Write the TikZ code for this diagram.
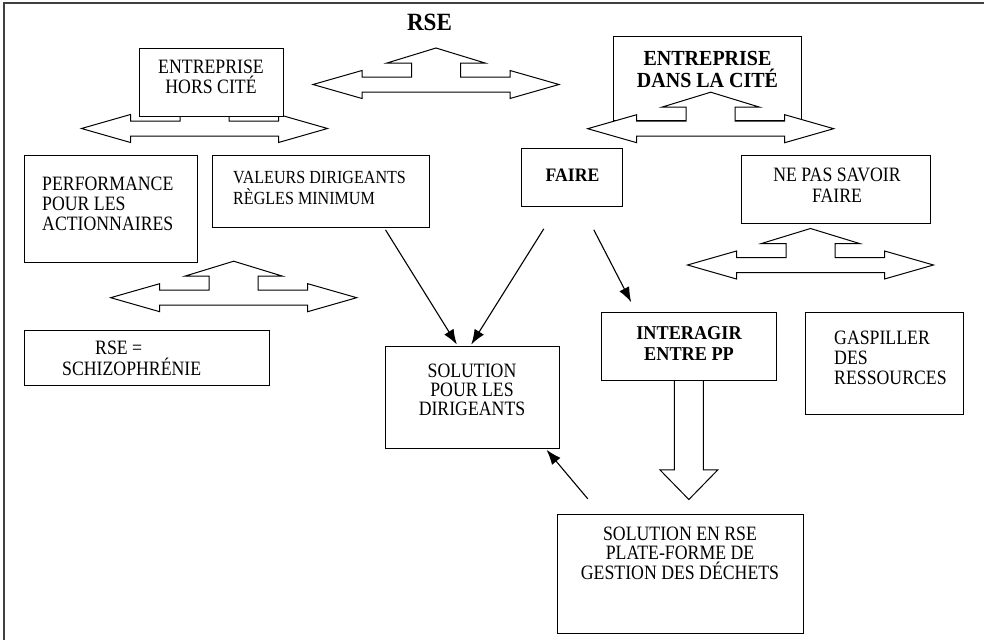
\documentclass[tikz,border=0pt]{standalone}
\usepackage{fontspec}
\setmainfont{Liberation Serif}
\newfontfamily\regfam{Liberation Serif}[FakeStretch=0.87]
\newfontfamily\boldfam{Liberation Serif}[FakeStretch=0.93]
\usetikzlibrary{arrows.meta,calc}

% font size + fixed line pitch for the box texts
\newcommand\regsize[2]{\regfam\fontsize{#1}{#2}\selectfont\lineskiplimit=-100pt\relax}
\newcommand\boldsize[2]{\boldfam\bfseries\fontsize{#1}{#2}\selectfont\lineskiplimit=-100pt\relax}
% strut that fixes the top of a text block 16pt above its first baseline
\newcommand\firstline{\rule{0pt}{16pt}}

\tikzset{
  frame/.style={line width=1.6pt, draw=black!75},
  box/.style={draw, fill=white, line width=1pt, rectangle, inner sep=0pt},
  blockarrow/.style={draw, fill=white, line width=1pt, line join=miter},
  conn/.style={line width=1.1pt, -{Latex[length=15pt,width=11pt]}},
  txt/.style={inner sep=0pt, anchor=north, align=center},
  txtl/.style={inner sep=0pt, anchor=north west, align=left},
  pics/lruarrow/.style={code={
    \draw[blockarrow] (-123,0) -- (-74,-14) -- (-74,-7.5) -- (-24.5,-7.5)
      -- (-24.5,-21.5) -- (-49,-21.5) -- (0,-36.5) -- (49,-21.5) -- (24.5,-21.5)
      -- (24.5,-7.5) -- (74,-7.5) -- (74,-14) -- (123,0) -- (74,14) -- (74,7.5)
      -- (-74,7.5) -- (-74,14) -- cycle;
  }},
}

\begin{document}
\begin{tikzpicture}[x=1pt,y=-1pt]
\useasboundingbox (0,0) rectangle (984,640);

% page frame
\draw[frame] (4,640) -- (4,3) -- (984,3);

% title
\node[inner sep=0pt, anchor=base, font=\boldsize{24.8}{26}] (title) at (429.5,30.5) {RSE};

% three-way arrows
\pic at (436,84.5) {lruarrow};
\pic at (204.5,128.5) {lruarrow};
\pic at (810.5,265) {lruarrow};
\pic at (233.7,297.7) {lruarrow};

% boxes
\node[box, minimum width=144pt, minimum height=67.7pt] (hors) at (211,82.2) {};
\node[box, minimum width=188.4pt, minimum height=84.7pt] (dans) at (707.5,78.35) {};
\pic at (710.7,128.7) {lruarrow};
\node[box, minimum width=173pt, minimum height=107pt] (perf) at (110.5,208.5) {};
\node[box, minimum width=217pt, minimum height=72.3pt] (valeurs) at (320.5,191.2) {};
\node[box, minimum width=101pt, minimum height=58pt] (faire) at (572.2,177) {};
\node[box, minimum width=189pt, minimum height=68.3pt] (savoir) at (836.2,189.2) {};
\node[box, minimum width=245.3pt, minimum height=55pt] (schizo) at (146.7,357.5) {};
\node[box, minimum width=174.3pt, minimum height=101.6pt] (soldir) at (472.2,397.5) {};
\node[box, minimum width=174.3pt, minimum height=68pt] (interagir) at (688.85,346.7) {};
\node[box, minimum width=158pt, minimum height=102pt] (gaspiller) at (884,363) {};
\node[box, minimum width=246pt, minimum height=118.7pt] (solrse) at (680,573.7) {};

% box texts
\node[txt, font=\regsize{20.4}{19.5}] (hors-t) at (211,57.5) {\firstline ENTREPRISE\\HORS CITÉ};
\node[txt, font=\boldsize{21.5}{22.7}] (dans-t) at (707.5,49) {\firstline ENTREPRISE\\DANS LA CITÉ};
\node[txtl, font=\regsize{20.4}{20}] (perf-t) at (42,174) {\firstline PERFORMANCE\\POUR LES\\ACTIONNAIRES};
\node[txtl, font=\regsize{18.5}{21}] (valeurs-t) at (233,167.3) {\firstline VALEURS DIRIGEANTS\\RÈGLES MINIMUM};
\node[txt, font=\boldsize{19}{20}] (faire-t) at (572.5,165.7) {\firstline FAIRE};
\node[txt, font=\regsize{20.4}{21}] (savoir-t) at (837,165.7) {\firstline NE PAS SAVOIR\\FAIRE};
\node[txtl, font=\regsize{20.4}{21}] (schizo-t) at (62,338) {\firstline\hspace*{33pt}RSE =\\SCHIZOPHRÉNIE};
\node[txt, font=\regsize{20.4}{19}] (soldir-t) at (472,361) {\firstline SOLUTION\\POUR LES\\DIRIGEANTS};
\node[txt, font=\boldsize{19.6}{21.4}] (interagir-t) at (689,323.3) {\firstline INTERAGIR\\ENTRE PP};
\node[txtl, font=\regsize{20.4}{20}] (gaspiller-t) at (834,328) {\firstline GASPILLER\\DES\\RESSOURCES};
\node[txt, font=\regsize{20.4}{19.5}] (solrse-t) at (680,524) {\firstline SOLUTION EN RSE\\PLATE-FORME DE\\GESTION DES DÉCHETS};

% hollow arrow from INTERAGIR down to the waste platform
\draw[blockarrow] ([xshift=-14.5pt]interagir.south) -- ++(0,88.6) -- ++(-14.5,0)
  -- ++(29,29.7) -- ++(29,-29.7) -- ++(-14.5,0) -- ++(0,-88.6);

% connectors
\draw[conn] ([xshift=-44pt,yshift=-2pt]valeurs.south east) -- ([xshift=72.3pt,yshift=1.7pt]soldir.north west);
\draw[conn] ([xshift=22.6pt,yshift=-22.3pt]faire.south west) -- ([xshift=86.7pt,yshift=1.7pt]soldir.north west);
\draw[conn] ([xshift=72.6pt,yshift=-23.3pt]faire.south west) -- ([xshift=30pt,yshift=10pt]interagir.north west);
\draw[conn] ([xshift=31.3pt,yshift=15pt]solrse.north west) -- ([xshift=-13.3pt,yshift=-1pt]soldir.south east);
\end{tikzpicture}
\end{document}
